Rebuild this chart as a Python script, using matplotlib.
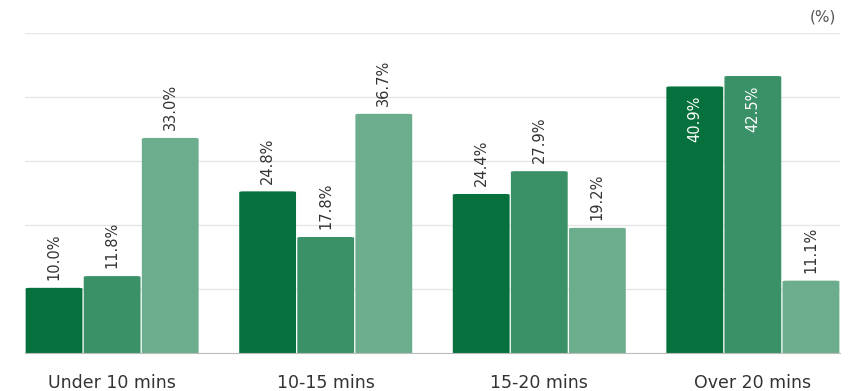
import numpy as np
import matplotlib.pyplot as plt
from matplotlib.patches import FancyBboxPatch

plt.rcParams['font.family'] = ['DejaVu Sans']

categories = ['Under 10 mins', '10-15 mins', '15-20 mins', 'Over 20 mins']
series_a = [10.0, 24.8, 24.4, 40.9]
series_b = [11.8, 17.8, 27.9, 42.5]
series_c = [33.0, 36.7, 19.2, 11.1]
colors = ['#06713C', '#3A9067', '#6BAD8D']

fig = plt.figure(figsize=(8.57, 3.91), dpi=100)
ax = fig.add_axes([25 / 857, 38 / 391, 815 / 857, 320 / 391])

ymax = 49.1
x = np.arange(len(categories))
w = 0.272
for i, (vals, col) in enumerate(zip([series_a, series_b, series_c], colors)):
    xs = x + (i - 1) * w
    for xi, v in zip(xs, vals):
        # rounded box starting below zero so only the top corners show
        p = FancyBboxPatch((xi - w / 2 + 0.003, -2), w - 0.006, v + 2,
                           boxstyle='round,pad=0,rounding_size=0.02',
                           mutation_aspect=6, fc=col, ec='none', zorder=2)
        ax.add_patch(p)
        if v > 40:
            ax.text(xi, v - 1.4, f'{v:.1f}%', rotation=90, ha='center', va='top',
                    fontsize=10.5, color='white', zorder=3)
        else:
            ax.text(xi, v + 1.2, f'{v:.1f}%', rotation=90, ha='center', va='bottom',
                    fontsize=10.5, color='#333333', zorder=3)

ax.set_xlim(x[0] - 1.5 * w, x[-1] + 1.5 * w)
ax.set_ylim(0, ymax)
ax.set_yticks(np.linspace(0, ymax, 6)[1:])
ax.yaxis.grid(True, color='#e6e6e6', linewidth=1, zorder=0)
ax.tick_params(axis='y', left=False, labelleft=False)
ax.set_xticks(x)
ax.set_xticklabels(categories, fontsize=12.5, color='#333333')
ax.tick_params(axis='x', length=0, pad=15)
for s in ['top', 'right', 'left']:
    ax.spines[s].set_visible(False)
ax.spines['bottom'].set_color('#bbbbbb')
ax.spines['bottom'].set_zorder(4)

fig.text(836 / 857, 1 - 17 / 391, '(%)', ha='right', va='center', fontsize=11, color='#555555')

fig.savefig('out.png', dpi=100)
